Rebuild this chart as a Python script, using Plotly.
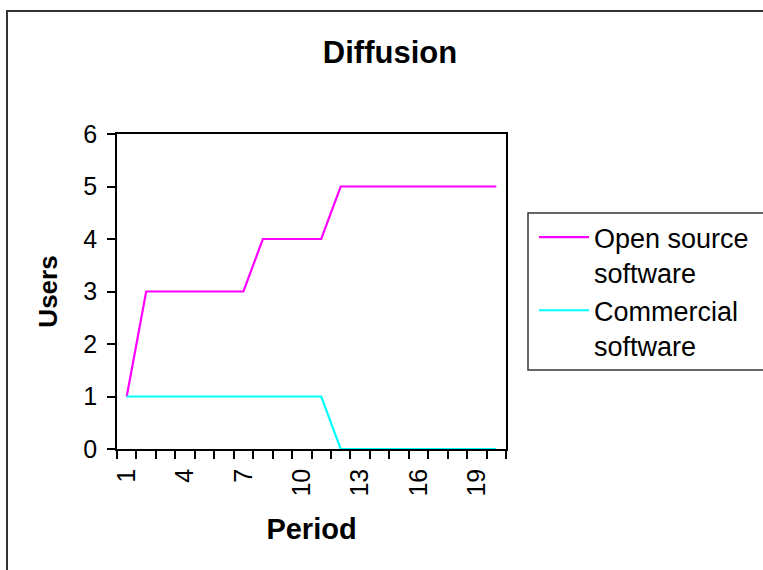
import plotly.graph_objects as go

periods = list(range(1, 21))
open_source = [1, 3, 3, 3, 3, 3, 3, 4, 4, 4, 4, 5, 5, 5, 5, 5, 5, 5, 5, 5]
commercial = [1, 1, 1, 1, 1, 1, 1, 1, 1, 1, 1, 0, 0, 0, 0, 0, 0, 0, 0, 0]
x_tick_labels = [1, 4, 7, 10, 13, 16, 19]
y_ticks = [0, 1, 2, 3, 4, 5, 6]

W, H = 763, 570
L, R, T, B = 117, 506, 134, 449
pw, ph = R - L, B - T

def px(xp):
    return (xp - L) / pw

def py(yp):
    return (B - yp) / ph

FONT = "Liberation Sans, Arial, sans-serif"

fig = go.Figure()
fig.add_trace(go.Scatter(x=periods, y=open_source, mode="lines",
                         name="Open source<br>software",
                         line=dict(color="#FF00FF", width=2.2)))
fig.add_trace(go.Scatter(x=periods, y=commercial, mode="lines",
                         name="Commercial<br>software",
                         line=dict(color="#00FFFF", width=2.2)))

boundaries = [p - 0.5 for p in periods] + [periods[-1] + 0.5]

fig.update_layout(
    width=W, height=H,
    margin=dict(l=L, r=W - R, t=T, b=H - B, autoexpand=False),
    paper_bgcolor="white", plot_bgcolor="white",
    font=dict(family=FONT, color="black", size=25),
    title=dict(text="<b>Diffusion</b>", font=dict(size=31, family=FONT),
               x=390 / W, xref="container", xanchor="center",
               y=1 - 52 / H, yref="container", yanchor="middle"),
    xaxis=dict(range=[0.5, 20.5], tickmode="array", tickvals=x_tick_labels,
               ticktext=[str(v) for v in x_tick_labels], tickangle=-90,
               ticks="outside", ticklen=8, tickcolor="rgba(0,0,0,0)",
               showline=True, linecolor="black", linewidth=1.5, mirror=True,
               showgrid=False, zeroline=False, automargin=False,
               minor=dict(tickmode="array", tickvals=boundaries, ticks="outside",
                          ticklen=8, tickcolor="black", tickwidth=1.5, showgrid=False),
               title=dict(text="<b>Period</b>", font=dict(size=29), standoff=23)),
    yaxis=dict(range=[0, 6], tickmode="array", tickvals=y_ticks,
               ticks="outside", ticklen=8, tickcolor="black", tickwidth=1.5,
               ticklabelstandoff=5,
               showline=True, linecolor="black", linewidth=1.5, mirror=True,
               showgrid=False, zeroline=False, automargin=False,
               title=dict(text="<b>Users</b>", font=dict(size=26), standoff=18)),
    legend=dict(x=px(534), y=py(213), xanchor="left", yanchor="top",
                bgcolor="rgba(0,0,0,0)", borderwidth=0, valign="top",
                font=dict(size=27, family=FONT), itemwidth=50),
    showlegend=True,
    shapes=[
        dict(type="rect", xref="paper", yref="paper",
             x0=px(7), x1=px(790), y0=py(600), y1=py(11),
             line=dict(color="#333333", width=2), fillcolor="rgba(0,0,0,0)"),
        dict(type="rect", xref="paper", yref="paper",
             x0=px(528), x1=px(790), y0=py(370), y1=py(213),
             line=dict(color="#333333", width=1.5), fillcolor="rgba(0,0,0,0)"),
    ],
)

fig.write_html("out.html", config={"displayModeBar": False},
               post_script="document.body.style.margin='0';document.body.style.overflow='hidden';")
